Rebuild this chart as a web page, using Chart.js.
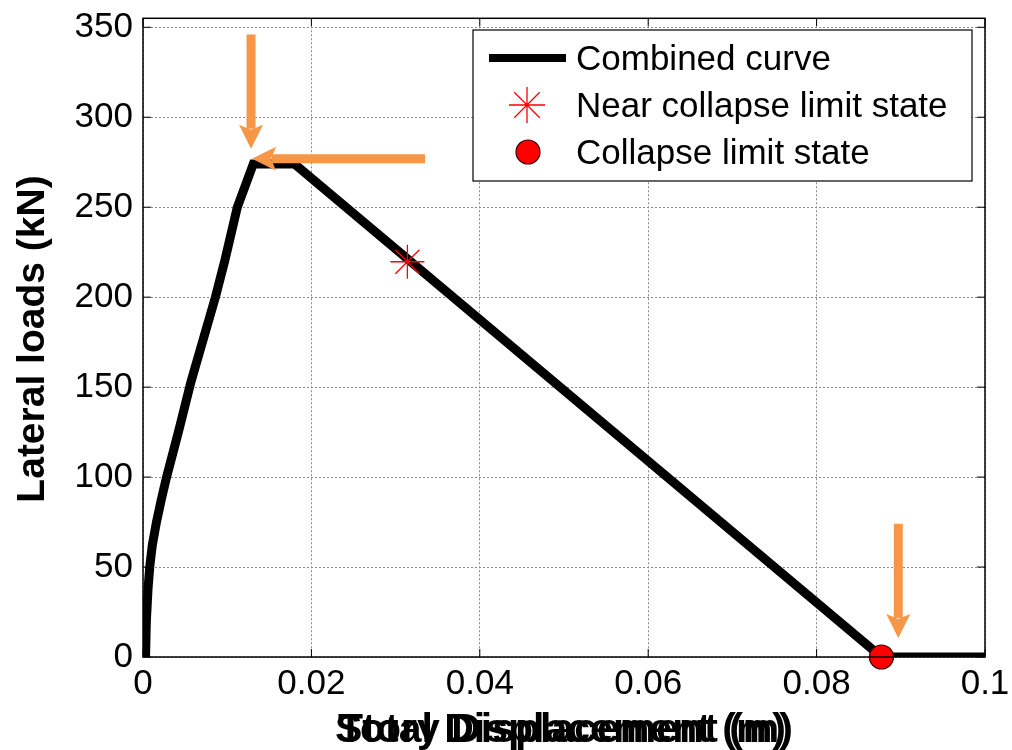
<!DOCTYPE html>
<html lang="en">
<head>
<meta charset="UTF-8">
<title>Lateral load curve</title>
<script src="https://cdn.jsdelivr.net/npm/chart.js"></script>
<style>
    html, body { margin: 0; padding: 0; background: #fff; }
    #wrap { width: 1012px; height: 750px; }
</style>
</head>
<body>
<div id="wrap"><canvas id="curve" width="1012" height="750"></canvas></div>
<script>
// curve
const dispX = [0.0003, 0.0004, 0.0006, 0.0008, 0.0011, 0.0016, 0.0022, 0.0028, 0.0042, 0.0057, 0.0086, 0.0097, 0.0112, 0.0131, 0.0180, 0.0877, 0.1];
const loadY = [0, 20, 38, 50, 62, 75, 88, 100, 125, 153, 200, 220, 250, 274, 274, 0, 0];
const nearCollapse = [0.0314, 219.7];
const collapse = [0.0877, 0];
const legendLabels = ['Combined curve', 'Near collapse limit state', 'Collapse limit state'];
const xTitles = ['Total Displacement (m)', 'Story Displacement (m)'];
const yTitle = 'Lateral loads (kN)';
// orange arrows, data coords (from -> tip)
const arrows = [
    { from: [0.01283, 346], to: [0.01283, 282.5] },
    { from: [0.0335, 277], to: [0.01295, 277] },
    { from: [0.0897, 74], to: [0.0897, 10.5] }
];

const FONT = "'Liberation Sans', Arial, sans-serif";
const ORANGE = '#F79646';

const extras = {
    id: 'extras',
    afterDatasetsDraw(chart) {
        const { ctx, chartArea: a, scales: { x, y } } = chart;
        ctx.save();

        // arrows
        ctx.fillStyle = ORANGE;
        ctx.strokeStyle = ORANGE;
        arrows.forEach(ar => {
            const x0 = x.getPixelForValue(ar.from[0]), y0 = y.getPixelForValue(ar.from[1]);
            const x1 = x.getPixelForValue(ar.to[0]), y1 = y.getPixelForValue(ar.to[1]);
            const ang = Math.atan2(y1 - y0, x1 - x0);
            const hl = 24, hw = 12;
            const bx = x1 - hl * Math.cos(ang), by = y1 - hl * Math.sin(ang);
            ctx.lineWidth = 9;
            ctx.beginPath();
            ctx.moveTo(x0, y0);
            ctx.lineTo(bx + 4 * Math.cos(ang), by + 4 * Math.sin(ang));
            ctx.stroke();
            ctx.beginPath();
            ctx.moveTo(x1, y1);
            ctx.lineTo(bx - hw * Math.sin(ang), by + hw * Math.cos(ang));
            ctx.lineTo(bx + 5 * Math.cos(ang), by + 5 * Math.sin(ang));
            ctx.lineTo(bx + hw * Math.sin(ang), by - hw * Math.cos(ang));
            ctx.closePath();
            ctx.fill();
        });

        // box and inner ticks
        ctx.strokeStyle = '#000';
        ctx.lineWidth = 1;
        ctx.beginPath();
        x.ticks.forEach(t => {
            const px = x.getPixelForValue(t.value);
            ctx.moveTo(px, a.bottom); ctx.lineTo(px, a.bottom - 8);
            ctx.moveTo(px, a.top); ctx.lineTo(px, a.top + 8);
        });
        y.ticks.forEach(t => {
            const py = y.getPixelForValue(t.value);
            ctx.moveTo(a.left, py); ctx.lineTo(a.left + 8, py);
            ctx.moveTo(a.right, py); ctx.lineTo(a.right - 8, py);
        });
        ctx.stroke();
        ctx.lineWidth = 1.5;
        ctx.strokeRect(a.left, a.top, a.right - a.left, a.bottom - a.top);

        // legend
        const lx = 473, ly = 30, lw = 499, lh = 151;
        ctx.fillStyle = '#fff';
        ctx.fillRect(lx, ly, lw, lh);
        ctx.lineWidth = 1.2;
        ctx.strokeRect(lx, ly, lw, lh);
        ctx.strokeStyle = '#000';
        ctx.lineWidth = 8;
        ctx.beginPath();
        ctx.moveTo(489, 58); ctx.lineTo(566, 58);
        ctx.stroke();
        // star
        ctx.strokeStyle = '#ff0000';
        ctx.lineWidth = 1.3;
        ctx.beginPath();
        for (let i = 0; i < 4; i++) {
            const t = i * Math.PI / 4;
            ctx.moveTo(527 - 18 * Math.cos(t), 105 - 18 * Math.sin(t));
            ctx.lineTo(527 + 18 * Math.cos(t), 105 + 18 * Math.sin(t));
        }
        ctx.stroke();
        // circle
        ctx.fillStyle = '#ff0000';
        ctx.strokeStyle = '#3a0000';
        ctx.lineWidth = 1.2;
        ctx.beginPath();
        ctx.arc(528, 152, 12, 0, Math.PI * 2);
        ctx.fill(); ctx.stroke();

        ctx.fillStyle = '#000';
        ctx.font = '35px ' + FONT;
        ctx.textAlign = 'left';
        ctx.textBaseline = 'alphabetic';
        legendLabels.forEach((s, i) => ctx.fillText(s, 576, 70 + i * 47));

        // axis titles (two labels printed on top of each other)
        ctx.font = 'bold 41px ' + FONT;
        ctx.textAlign = 'center';
        const cx = (a.left + a.right) / 2 - 1;
        ctx.fillText(xTitles[0], cx - 1, 742);
        ctx.fillText(xTitles[1], cx + 1, 742);
        ctx.translate(44, 339);
        ctx.rotate(-Math.PI / 2);
        ctx.font = 'bold 39px ' + FONT;
        ctx.fillText(yTitle, 0, 0);
        ctx.restore();
    }
};

new Chart(document.getElementById('curve'), {
    type: 'scatter',
    data: {
        datasets: [{
            label: 'Near collapse limit state',
            data: [{ x: nearCollapse[0], y: nearCollapse[1] }],
            pointStyle: 'star',
            pointRadius: 17,
            borderColor: '#ff0000',
            borderWidth: 1.3,
            backgroundColor: '#ff0000',
            clip: false,
            order: 0
        }, {
            label: 'Collapse limit state',
            data: [{ x: collapse[0], y: collapse[1] }],
            pointStyle: 'circle',
            pointRadius: 12,
            backgroundColor: '#ff0000',
            borderColor: '#3a0000',
            borderWidth: 1.2,
            clip: false,
            order: 0
        }, {
            label: 'Combined curve',
            data: dispX.map((v, i) => ({ x: v, y: loadY[i] })),
            showLine: true,
            borderColor: '#000',
            borderWidth: 9,
            borderJoinStyle: 'miter',
            pointRadius: 0,
            tension: 0,
            order: 1
        }]
    },
    options: {
        responsive: false,
        animation: false,
        events: [],
        layout: { padding: { left: 0, right: 27, top: 15, bottom: 0 } },
        plugins: { legend: { display: false }, tooltip: { enabled: false } },
        scales: {
            x: {
                type: 'linear',
                min: 0,
                max: 0.1,
                afterFit: s => { s.height = 93; s.paddingLeft = 0; s.paddingRight = 0; },
                border: { display: false, dash: [2, 2] },
                grid: { color: '#8a8a8a', lineWidth: 1, drawTicks: false },
                ticks: {
                    stepSize: 0.02,
                    includeBounds: false,
                    padding: 6,
                    color: '#000',
                    maxRotation: 0,
                    font: { family: FONT, size: 35 },
                    callback: v => String(Number(v.toFixed(2)))
                }
            },
            y: {
                type: 'linear',
                min: 0,
                max: 355,
                afterFit: s => { s.width = 143; s.paddingTop = 0; s.paddingBottom = 0; },
                border: { display: false, dash: [2, 2] },
                grid: { color: '#8a8a8a', lineWidth: 1, drawTicks: false },
                ticks: {
                    stepSize: 50,
                    includeBounds: false,
                    padding: 10,
                    color: '#000',
                    font: { family: FONT, size: 35 }
                }
            }
        }
    },
    plugins: [extras]
});
</script>
</body>
</html>
